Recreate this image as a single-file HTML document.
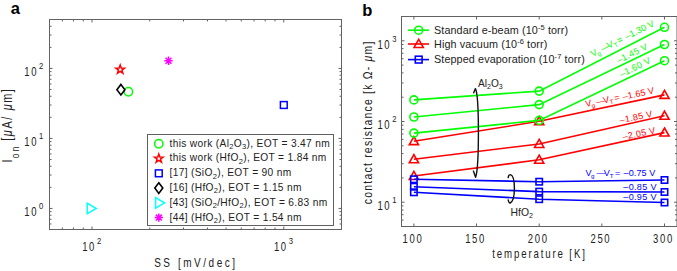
<!DOCTYPE html>
<html><head><meta charset="utf-8"><style>
html,body{margin:0;padding:0;background:#fff;}
svg{display:block;}
text{font-family:"Liberation Sans",sans-serif;}
</style></head><body>
<svg width="677" height="271" viewBox="0 0 677 271">
<rect width="677" height="271" fill="#fff"/>

<text x="10.8" y="14.2" font-size="16.5" font-weight="bold" fill="#000">a</text>
<text x="362.3" y="15.7" font-size="16.5" font-weight="bold" fill="#000">b</text>
<rect x="49.5" y="19.5" width="292.0" height="210.0" fill="none" stroke="#626262" stroke-width="1"/>
<rect x="401.5" y="16.5" width="275.5" height="210.0" fill="none" stroke="#626262" stroke-width="1"/>
<path d="M49.50 229.5v-2M49.50 19.5v2M62.34 229.5v-2M62.34 19.5v2M73.46 229.5v-2M73.46 19.5v2M83.26 229.5v-2M83.26 19.5v2M92.04 229.5v-3M92.04 19.5v3M149.76 229.5v-2M149.76 19.5v2M183.52 229.5v-2M183.52 19.5v2M207.48 229.5v-2M207.48 19.5v2M226.06 229.5v-2M226.06 19.5v2M241.24 229.5v-2M241.24 19.5v2M254.08 229.5v-2M254.08 19.5v2M265.20 229.5v-2M265.20 19.5v2M275.01 229.5v-2M275.01 19.5v2M283.78 229.5v-3M283.78 19.5v3M341.50 229.5v-2M341.50 19.5v2M49.5 229.50h2M341.5 229.50h-2M49.5 223.96h2M341.5 223.96h-2M49.5 219.27h2M341.5 219.27h-2M49.5 215.21h2M341.5 215.21h-2M49.5 211.63h2M341.5 211.63h-2M49.5 208.43h3M341.5 208.43h-3M49.5 187.36h2M341.5 187.36h-2M49.5 175.03h2M341.5 175.03h-2M49.5 166.28h2M341.5 166.28h-2M49.5 159.50h2M341.5 159.50h-2M49.5 153.96h2M341.5 153.96h-2M49.5 149.27h2M341.5 149.27h-2M49.5 145.21h2M341.5 145.21h-2M49.5 141.63h2M341.5 141.63h-2M49.5 138.43h3M341.5 138.43h-3M49.5 117.36h2M341.5 117.36h-2M49.5 105.03h2M341.5 105.03h-2M49.5 96.28h2M341.5 96.28h-2M49.5 89.50h2M341.5 89.50h-2M49.5 83.96h2M341.5 83.96h-2M49.5 79.27h2M341.5 79.27h-2M49.5 75.21h2M341.5 75.21h-2M49.5 71.63h2M341.5 71.63h-2M49.5 68.43h3M341.5 68.43h-3M49.5 47.36h2M341.5 47.36h-2M49.5 35.03h2M341.5 35.03h-2M49.5 26.28h2M341.5 26.28h-2M49.5 19.50h2M341.5 19.50h-2M413.90 226.5v-3M413.90 16.5v3M476.55 226.5v-3M476.55 16.5v3M539.20 226.5v-3M539.20 16.5v3M601.85 226.5v-3M601.85 16.5v3M664.50 226.5v-3M664.50 16.5v3M401.5 226.50h2M677.0 226.50h-2M401.5 220.11h2M677.0 220.11h-2M401.5 214.71h2M677.0 214.71h-2M401.5 210.03h2M677.0 210.03h-2M401.5 205.90h2M677.0 205.90h-2M401.5 202.21h3M677.0 202.21h-3M401.5 177.91h2M677.0 177.91h-2M401.5 163.70h2M677.0 163.70h-2M401.5 153.62h2M677.0 153.62h-2M401.5 145.79h2M677.0 145.79h-2M401.5 139.40h2M677.0 139.40h-2M401.5 134.00h2M677.0 134.00h-2M401.5 129.32h2M677.0 129.32h-2M401.5 125.19h2M677.0 125.19h-2M401.5 121.50h3M677.0 121.50h-3M401.5 97.21h2M677.0 97.21h-2M401.5 82.99h2M677.0 82.99h-2M401.5 72.91h2M677.0 72.91h-2M401.5 65.09h2M677.0 65.09h-2M401.5 58.70h2M677.0 58.70h-2M401.5 53.30h2M677.0 53.30h-2M401.5 48.62h2M677.0 48.62h-2M401.5 44.49h2M677.0 44.49h-2M401.5 40.79h3M677.0 40.79h-3M401.5 16.50h2M677.0 16.50h-2" stroke="#626262" stroke-width="1" fill="none"/>
<text transform="translate(24.30,216.33) scale(0.78,1)" font-size="12.2" fill="#222" letter-spacing="2.13" text-anchor="start">10</text><text transform="translate(39.10,209.33) scale(0.78,1)" font-size="9.8" fill="#222" letter-spacing="0" text-anchor="start">0</text>
<text transform="translate(24.30,146.33) scale(0.78,1)" font-size="12.2" fill="#222" letter-spacing="2.13" text-anchor="start">10</text><text transform="translate(39.10,139.33) scale(0.78,1)" font-size="9.8" fill="#222" letter-spacing="0" text-anchor="start">1</text>
<text transform="translate(24.30,76.33) scale(0.78,1)" font-size="12.2" fill="#222" letter-spacing="2.13" text-anchor="start">10</text><text transform="translate(39.10,69.33) scale(0.78,1)" font-size="9.8" fill="#222" letter-spacing="0" text-anchor="start">2</text>
<text transform="translate(82.14,250.60) scale(0.78,1)" font-size="12.2" fill="#222" letter-spacing="2.13" text-anchor="start">10</text><text transform="translate(96.94,243.60) scale(0.78,1)" font-size="9.8" fill="#222" letter-spacing="0" text-anchor="start">2</text>
<text transform="translate(273.88,250.60) scale(0.78,1)" font-size="12.2" fill="#222" letter-spacing="2.13" text-anchor="start">10</text><text transform="translate(288.68,243.60) scale(0.78,1)" font-size="9.8" fill="#222" letter-spacing="0" text-anchor="start">3</text>
<text transform="translate(377.40,210.01) scale(0.78,1)" font-size="12.2" fill="#222" letter-spacing="2.13" text-anchor="start">10</text><text transform="translate(392.20,203.01) scale(0.78,1)" font-size="9.8" fill="#222" letter-spacing="0" text-anchor="start">1</text>
<text transform="translate(377.40,129.30) scale(0.78,1)" font-size="12.2" fill="#222" letter-spacing="2.13" text-anchor="start">10</text><text transform="translate(392.20,122.30) scale(0.78,1)" font-size="9.8" fill="#222" letter-spacing="0" text-anchor="start">2</text>
<text transform="translate(377.40,48.59) scale(0.78,1)" font-size="12.2" fill="#222" letter-spacing="2.13" text-anchor="start">10</text><text transform="translate(392.20,41.59) scale(0.78,1)" font-size="9.8" fill="#222" letter-spacing="0" text-anchor="start">3</text>
<text transform="translate(412.90,242.60) scale(0.78,1)" font-size="12.2" fill="#222" letter-spacing="2.13" text-anchor="middle">100</text>
<text transform="translate(475.55,242.60) scale(0.78,1)" font-size="12.2" fill="#222" letter-spacing="2.13" text-anchor="middle">150</text>
<text transform="translate(538.20,242.60) scale(0.78,1)" font-size="12.2" fill="#222" letter-spacing="2.13" text-anchor="middle">200</text>
<text transform="translate(600.85,242.60) scale(0.78,1)" font-size="12.2" fill="#222" letter-spacing="2.13" text-anchor="middle">250</text>
<text transform="translate(663.50,242.60) scale(0.78,1)" font-size="12.2" fill="#222" letter-spacing="2.13" text-anchor="middle">300</text>
<text transform="translate(195.90,267.00) scale(0.78,1)" font-size="12.8" fill="#222" letter-spacing="3.27" text-anchor="middle">SS [mV/dec]</text>
<text transform="translate(539.50,258.30) scale(0.78,1)" font-size="12.4" fill="#222" letter-spacing="2.39" text-anchor="middle">temperature [K]</text>
<text transform="translate(12.2,162.6) rotate(-90) scale(0.78,1)" font-size="13.9" fill="#222" letter-spacing="1.7">I<tspan font-size="10.4" dy="7.0" letter-spacing="3.2">on</tspan><tspan dy="-7.0" dx="-1.5" letter-spacing="2.1"> [<tspan font-style="italic">μ</tspan>A/ <tspan font-style="italic">μ</tspan>m]</tspan></text>
<text transform="translate(371.6,122.3) rotate(-90) scale(0.84,1)" font-size="12.4" fill="#222" text-anchor="middle" letter-spacing="1.47">contact resistance [k Ω- <tspan font-style="italic">μ</tspan>m]</text>
<g fill="none" stroke-width="1.5">
<circle cx="128.4" cy="91.8" r="4.2" stroke="#00ff00"/>
<polygon points="120.20,65.00 121.26,68.04 124.48,68.11 121.91,70.06 122.85,73.14 120.20,71.30 117.55,73.14 118.49,70.06 115.92,68.11 119.14,68.04" stroke="#ff0000"/>
<rect x="280.4" y="101.6" width="6.8" height="6.8" stroke="#0000ff"/>
<polygon points="120.9,84.4 124.9,89.7 120.9,95.0 116.9,89.7" stroke="#000" stroke-width="1.6"/>
<polygon points="87.2,203.2 96.2,208.5 87.2,213.8" stroke="#00ffff"/>
<path d="M164.30 60.70L172.70 60.70M165.53 57.73L171.47 63.67M168.50 56.50L168.50 64.90M171.47 57.73L165.53 63.67" stroke="#ff00ff"/>
</g>
<rect x="147.5" y="134.5" width="186" height="91" fill="#fff" stroke="#606060" stroke-width="1"/>
<g fill="none" stroke-width="1.5">
<circle cx="158.8" cy="143.8" r="4.2" stroke="#00ff00"/>
<polygon points="158.80,154.06 159.86,157.10 163.08,157.17 160.51,159.12 161.45,162.20 158.80,160.36 156.15,162.20 157.09,159.12 154.52,157.17 157.74,157.10" stroke="#ff0000"/>
<rect x="155.4" y="169.92000000000002" width="6.8" height="6.8" stroke="#0000ff"/>
<polygon points="158.8,182.78 162.8,188.08 158.8,193.38000000000002 154.8,188.08" stroke="#000" stroke-width="1.6"/>
<polygon points="155.60000000000002,197.54 164.60000000000002,202.84 155.60000000000002,208.14000000000001" stroke="#00ffff"/>
<path d="M154.60 217.60L163.00 217.60M155.83 214.63L161.77 220.57M158.80 213.40L158.80 221.80M161.77 214.63L155.83 220.57" stroke="#ff00ff"/>
</g>
<text x="169.5" y="146.70" font-size="10.2" fill="#222" letter-spacing="0.33">this work (Al<tspan font-size="7.5" dy="2.5">2</tspan><tspan dy="-2.5">O</tspan><tspan font-size="7.5" dy="2.5">3</tspan><tspan dy="-2.5">), EOT = 3.47 nm</tspan></text>
<text x="169.5" y="161.46" font-size="10.2" fill="#222" letter-spacing="0.33">this work (HfO<tspan font-size="7.5" dy="2.5">2</tspan><tspan dy="-2.5">), EOT = 1.84 nm</tspan></text>
<text x="169.5" y="176.22" font-size="10.2" fill="#222" letter-spacing="0.33">[17] (SiO<tspan font-size="7.5" dy="2.5">2</tspan><tspan dy="-2.5">), EOT = 90 nm</tspan></text>
<text x="169.5" y="190.98" font-size="10.2" fill="#222" letter-spacing="0.33">[16] (HfO<tspan font-size="7.5" dy="2.5">2</tspan><tspan dy="-2.5">), EOT = 1.15 nm</tspan></text>
<text x="169.5" y="205.74" font-size="10.2" fill="#222" letter-spacing="0.33">[43] (SiO<tspan font-size="7.5" dy="2.5">2</tspan><tspan dy="-2.5">/HfO</tspan><tspan font-size="7.5" dy="2.5">2</tspan><tspan dy="-2.5">), EOT = 6.83 nm</tspan></text>
<text x="169.5" y="220.50" font-size="10.2" fill="#222" letter-spacing="0.33">[44] (HfO<tspan font-size="7.5" dy="2.5">2</tspan><tspan dy="-2.5">), EOT = 1.54 nm</tspan></text>
<polyline points="413.90,141.2 539.20,121.3 664.50,94.9" stroke="#ff0000" fill="none" stroke-width="1.6"/>
<polygon points="413.90,136.60 418.50,144.65 409.30,144.65" stroke="#ff0000" fill="none" stroke-width="1.6"/>
<polygon points="539.20,116.70 543.80,124.75 534.60,124.75" stroke="#ff0000" fill="none" stroke-width="1.6"/>
<polygon points="664.50,90.30 669.10,98.35 659.90,98.35" stroke="#ff0000" fill="none" stroke-width="1.6"/>
<polyline points="413.90,159.3 539.20,144.0 664.50,115.8" stroke="#ff0000" fill="none" stroke-width="1.6"/>
<polygon points="413.90,154.70 418.50,162.75 409.30,162.75" stroke="#ff0000" fill="none" stroke-width="1.6"/>
<polygon points="539.20,139.40 543.80,147.45 534.60,147.45" stroke="#ff0000" fill="none" stroke-width="1.6"/>
<polygon points="664.50,111.20 669.10,119.25 659.90,119.25" stroke="#ff0000" fill="none" stroke-width="1.6"/>
<polyline points="413.90,176 539.20,159.8 664.50,132.6" stroke="#ff0000" fill="none" stroke-width="1.6"/>
<polygon points="413.90,171.40 418.50,179.45 409.30,179.45" stroke="#ff0000" fill="none" stroke-width="1.6"/>
<polygon points="539.20,155.20 543.80,163.25 534.60,163.25" stroke="#ff0000" fill="none" stroke-width="1.6"/>
<polygon points="664.50,128.00 669.10,136.05 659.90,136.05" stroke="#ff0000" fill="none" stroke-width="1.6"/>
<polyline points="413.90,179.3 539.20,181.7 664.50,180" stroke="#0000ff" fill="none" stroke-width="1.6"/>
<rect x="410.70" y="176.10" width="6.4" height="6.4" stroke="#0000ff" fill="none" stroke-width="1.6"/>
<rect x="536.00" y="178.50" width="6.4" height="6.4" stroke="#0000ff" fill="none" stroke-width="1.6"/>
<rect x="661.30" y="176.80" width="6.4" height="6.4" stroke="#0000ff" fill="none" stroke-width="1.6"/>
<polyline points="413.90,186.7 539.20,191.6 664.50,192" stroke="#0000ff" fill="none" stroke-width="1.6"/>
<rect x="410.70" y="183.50" width="6.4" height="6.4" stroke="#0000ff" fill="none" stroke-width="1.6"/>
<rect x="536.00" y="188.40" width="6.4" height="6.4" stroke="#0000ff" fill="none" stroke-width="1.6"/>
<rect x="661.30" y="188.80" width="6.4" height="6.4" stroke="#0000ff" fill="none" stroke-width="1.6"/>
<polyline points="413.90,192.3 539.20,199.2 664.50,202.5" stroke="#0000ff" fill="none" stroke-width="1.6"/>
<rect x="410.70" y="189.10" width="6.4" height="6.4" stroke="#0000ff" fill="none" stroke-width="1.6"/>
<rect x="536.00" y="196.00" width="6.4" height="6.4" stroke="#0000ff" fill="none" stroke-width="1.6"/>
<rect x="661.30" y="199.30" width="6.4" height="6.4" stroke="#0000ff" fill="none" stroke-width="1.6"/>
<polyline points="413.90,99.9 539.20,91.1 664.50,27.3" stroke="#00ff00" fill="none" stroke-width="1.6"/>
<circle cx="413.90" cy="99.9" r="4" stroke="#00ff00" fill="none" stroke-width="1.6"/>
<circle cx="539.20" cy="91.1" r="4" stroke="#00ff00" fill="none" stroke-width="1.6"/>
<circle cx="664.50" cy="27.3" r="4" stroke="#00ff00" fill="none" stroke-width="1.6"/>
<polyline points="413.90,117.0 539.20,104.6 664.50,44.5" stroke="#00ff00" fill="none" stroke-width="1.6"/>
<circle cx="413.90" cy="117.0" r="4" stroke="#00ff00" fill="none" stroke-width="1.6"/>
<circle cx="539.20" cy="104.6" r="4" stroke="#00ff00" fill="none" stroke-width="1.6"/>
<circle cx="664.50" cy="44.5" r="4" stroke="#00ff00" fill="none" stroke-width="1.6"/>
<polyline points="413.90,133.1 539.20,120.4 664.50,60.7" stroke="#00ff00" fill="none" stroke-width="1.6"/>
<circle cx="413.90" cy="133.1" r="4" stroke="#00ff00" fill="none" stroke-width="1.6"/>
<circle cx="539.20" cy="120.4" r="4" stroke="#00ff00" fill="none" stroke-width="1.6"/>
<circle cx="664.50" cy="60.7" r="4" stroke="#00ff00" fill="none" stroke-width="1.6"/>
<path d="M408 30.2H429" stroke="#00ff00" stroke-width="1.6"/><circle cx="418.7" cy="30.2" r="4" stroke="#00ff00" fill="none" stroke-width="1.6"/>
<path d="M408 44.0H429" stroke="#ff0000" stroke-width="1.6"/><polygon points="418.70,39.40 423.30,47.45 414.10,47.45" stroke="#ff0000" fill="none" stroke-width="1.6"/>
<path d="M408 59.6H429" stroke="#0000ff" stroke-width="1.6"/><rect x="415.3" y="56.2" width="6.8" height="6.8" stroke="#0000ff" fill="none" stroke-width="1.6"/>
<text x="434" y="34.00" font-size="10.8" fill="#222" letter-spacing="0.1">Standard e-beam (10<tspan font-size="7.5" dy="-4">-5</tspan><tspan dy="4"> torr)</tspan></text>
<text x="434" y="47.80" font-size="10.8" fill="#222" letter-spacing="0.1">High vacuum (10<tspan font-size="7.5" dy="-4">-6</tspan><tspan dy="4"> torr)</tspan></text>
<text x="434" y="63.40" font-size="10.8" fill="#222" letter-spacing="0.1">Stepped evaporation (10<tspan font-size="7.5" dy="-4">-7</tspan><tspan dy="4"> torr)</tspan></text>
<text transform="translate(592.6,56.9) rotate(-26.6)" font-size="9.1" fill="#00ff00"><tspan x="0" y="0">V</tspan><tspan x="5.6" y="2" font-size="6.2">g</tspan><tspan x="11.0" y="0">—</tspan><tspan x="18.2" y="0">V</tspan><tspan x="24.3" y="2" font-size="6.2">T</tspan><tspan x="29.6" y="0">=</tspan><tspan x="38.1" y="0" letter-spacing="0.05">–1.30 V</tspan></text>
<text transform="translate(618.5,63.6) rotate(-26.6)" font-size="9.1" fill="#00ff00"><tspan letter-spacing="0.3">–1.45 V</tspan></text>
<text transform="translate(621.5,77.5) rotate(-26.6)" font-size="9.1" fill="#00ff00"><tspan letter-spacing="0.3">–1.60 V</tspan></text>
<text transform="translate(586.0,107.1) rotate(-11.3)" font-size="9.1" fill="#ff0000"><tspan x="0" y="0">V</tspan><tspan x="5.6" y="2" font-size="6.2">g</tspan><tspan x="11.0" y="0">—</tspan><tspan x="18.2" y="0">V</tspan><tspan x="24.3" y="2" font-size="6.2">T</tspan><tspan x="29.6" y="0">=</tspan><tspan x="38.1" y="0" letter-spacing="0.05">–1.65 V</tspan></text>
<text transform="translate(620.2,123.3) rotate(-11.3)" font-size="9.1" fill="#ff0000"><tspan letter-spacing="0.3">–1.85 V</tspan></text>
<text transform="translate(623.3,139.8) rotate(-11.3)" font-size="9.1" fill="#ff0000"><tspan letter-spacing="0.3">–2.05 V</tspan></text>
<text transform="translate(585.5,175.7) rotate(0)" font-size="9.1" fill="#0000ff"><tspan x="0" y="0">V</tspan><tspan x="5.6" y="2" font-size="6.2">g</tspan><tspan x="11.0" y="0">—</tspan><tspan x="18.2" y="0">V</tspan><tspan x="24.3" y="2" font-size="6.2">T</tspan><tspan x="29.6" y="0">=</tspan><tspan x="38.1" y="0" letter-spacing="0.05">–0.75 V</tspan></text>
<text transform="translate(623.3,189.5) rotate(0)" font-size="9.1" fill="#0000ff"><tspan letter-spacing="0.3">–0.85 V</tspan></text>
<text transform="translate(623.3,199.5) rotate(0)" font-size="9.1" fill="#0000ff"><tspan letter-spacing="0.3">–0.95 V</tspan></text>
<text x="478.1" y="87.0" font-size="10.1" fill="#222">Al<tspan font-size="7" dy="1.9">2</tspan><tspan dy="-1.9">O</tspan><tspan font-size="7" dy="1.9">3</tspan></text>
<text x="510.6" y="215.6" font-size="10.4" fill="#222">HfO<tspan font-size="7" dy="1.9">2</tspan></text>
<path d="M473.7,92.8 L475.4,88.6 C477.8,93 478.4,105 478.4,132 C478.4,160 477.5,172 475.6,177.3 L473.4,171.1" stroke="#111" stroke-width="1.4" fill="none" stroke-linejoin="round" stroke-linecap="round"/>
<path d="M508.2,177.6 C508.4,175.4 509.4,174.6 510.6,174.6 C513.6,175.5 514.4,182 514.4,188.6 C514.4,196 513.2,201.5 510.2,203 C509.2,203.2 508.5,201.5 508.2,199.9" stroke="#111" stroke-width="1.4" fill="none" stroke-linecap="round"/>
</svg></body></html>
